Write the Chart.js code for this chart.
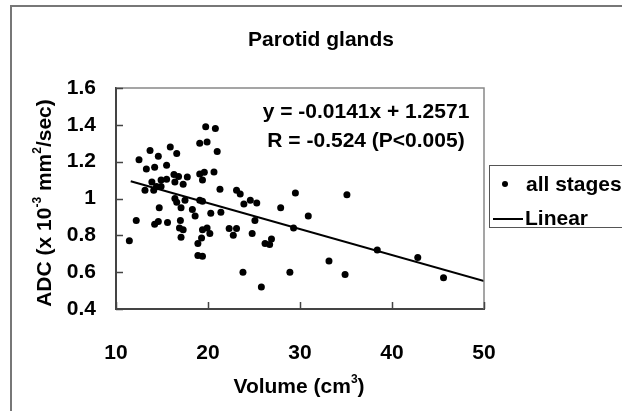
<!DOCTYPE html>
<html><head><meta charset="utf-8">
<script src="https://cdn.jsdelivr.net/npm/chart.js@4.4.0/dist/chart.umd.min.js"></script>
<style>html,body{margin:0;padding:0;background:#fff;overflow:hidden}canvas{display:block}</style>
</head><body>
<canvas id="c" width="622" height="411"></canvas>
<script>
// ---- data ----
const volumes = [11.45,12.2,12.5,13.15,13.3,13.7,13.9,14.1,14.2,14.2,14.4,14.6,14.6,14.7,14.9,14.9,15.5,15.5,15.6,15.9,16.3,16.4,16.4,16.6,16.6,16.8,16.9,17.0,17.07,17.07,17.3,17.3,17.5,17.75,18.3,18.6,18.9,18.9,19.1,19.1,19.1,19.3,19.4,19.4,19.4,19.4,19.6,19.75,19.9,19.9,20.2,20.3,20.65,20.8,21.0,21.3,21.4,22.3,22.75,23.1,23.1,23.5,23.8,23.9,24.6,24.8,25.1,25.3,25.8,26.2,26.7,26.9,27.9,28.9,29.3,29.5,30.9,33.15,34.9,35.1,38.4,42.8,45.6];
const adcValues = [0.77,0.88,1.21,1.045,1.16,1.26,1.09,1.045,1.17,0.86,1.065,1.23,0.875,0.95,1.10,1.065,1.105,1.18,0.87,1.28,1.13,1.09,1.0,1.245,0.98,1.12,0.84,0.88,0.95,0.79,1.078,0.83,0.99,1.117,0.94,0.905,0.755,0.69,1.30,1.133,0.99,0.785,1.10,0.985,0.83,0.686,1.142,1.39,1.307,0.84,0.81,0.92,1.144,1.38,1.255,1.05,0.925,0.837,0.80,1.045,0.837,1.025,0.60,0.97,0.99,0.81,0.88,0.975,0.52,0.755,0.75,0.78,0.95,0.60,0.84,1.03,0.905,0.66,0.587,1.02,0.72,0.68,0.57];
const fitX = [11.6, 50];
const fitY = [1.094, 0.552];
const xTicks = [10, 20, 30, 40, 50];
const xTickLabels = ['10', '20', '30', '40', '50'];
const yTicks = [0.4, 0.6, 0.8, 1.0, 1.2, 1.4, 1.6];
const yTickLabels = ['0.4', '0.6', '0.8', '1', '1.2', '1.4', '1.6'];
const chartTitle = 'Parotid glands';
const equationLines = ['y = -0.0141x + 1.2571', 'R = -0.524 (P<0.005)'];
const seriesNames = ['all stages', 'Linear'];

const FONT = '"Liberation Sans", Arial, Helvetica, sans-serif';
const FS = 21;
const W = 622, H = 411;
const PL = 116, PR = 484, PT = 88, PB = 309;

function richText(ctx, parts, x, y, align) {
  const big = 'bold ' + FS + 'px ' + FONT, small = 'bold 12px ' + FONT;
  let total = 0;
  parts.forEach(p => { ctx.font = p[1] ? small : big; total += ctx.measureText(p[0]).width; });
  let cx = align === 'center' ? x - total / 2 : x;
  ctx.textAlign = 'left';
  ctx.textBaseline = 'alphabetic';
  parts.forEach(p => {
    ctx.font = p[1] ? small : big;
    ctx.fillText(p[0], cx, p[1] ? y - 10 : y);
    cx += ctx.measureText(p[0]).width;
  });
}

const decor = {
  id: 'decor',
  beforeDraw(chart) {
    const ctx = chart.ctx;
    ctx.save();
    ctx.fillStyle = '#fff';
    ctx.fillRect(0, 0, W, H);
    ctx.strokeStyle = '#777';
    ctx.lineWidth = 2;
    ctx.beginPath();
    ctx.moveTo(11, H); ctx.lineTo(11, 6); ctx.lineTo(W, 6);
    ctx.stroke();
    ctx.restore();
  },
  afterDraw(chart) {
    const ctx = chart.ctx, a = chart.chartArea;
    const xs = chart.scales.x, ys = chart.scales.y;
    ctx.save();
    ctx.strokeStyle = '#888';
    ctx.lineWidth = 1.5;
    ctx.beginPath();
    ctx.moveTo(a.left, a.top); ctx.lineTo(a.right, a.top); ctx.lineTo(a.right, a.bottom);
    ctx.stroke();
    ctx.strokeStyle = '#444';
    ctx.lineWidth = 1.5;
    ctx.beginPath();
    yTicks.forEach(v => { const p = Math.round(ys.getPixelForValue(v)) + 0.5; ctx.moveTo(a.left, p); ctx.lineTo(a.left + 7, p); });
    xTicks.forEach(v => { const p = Math.round(xs.getPixelForValue(v)) + 0.5; ctx.moveTo(p, a.bottom); ctx.lineTo(p, a.bottom - 7); });
    ctx.stroke();
    ctx.fillStyle = '#000';
    ctx.font = 'bold ' + FS + 'px ' + FONT;
    ctx.textAlign = 'center'; ctx.textBaseline = 'middle';
    ctx.fillText(chartTitle, 321, 40);
    ctx.fillText(equationLines[0], 366, 112);
    ctx.fillText(equationLines[1], 366, 141);
    richText(ctx, [['Volume (cm', false], ['3', true], [')', false]], 299, 393, 'center');
    ctx.save();
    ctx.translate(51, 203);
    ctx.rotate(-Math.PI / 2);
    richText(ctx, [['ADC (x 10', false], ['-3', true], [' mm', false], ['2', true], ['/sec)', false]], 0, 0, 'center');
    ctx.restore();
    // legend
    ctx.strokeStyle = '#555';
    ctx.lineWidth = 1;
    ctx.strokeRect(489.5, 165.5, 140, 62);
    ctx.beginPath(); ctx.arc(505, 184, 3, 0, Math.PI * 2); ctx.fill();
    ctx.lineWidth = 2;
    ctx.strokeStyle = '#000';
    ctx.beginPath(); ctx.moveTo(493, 219); ctx.lineTo(523, 219); ctx.stroke();
    ctx.font = 'bold ' + FS + 'px ' + FONT;
    ctx.textAlign = 'left'; ctx.textBaseline = 'middle';
    ctx.fillText(seriesNames[0], 526, 185);
    ctx.fillText(seriesNames[1], 525, 219);
    ctx.restore();
  }
};

new Chart(document.getElementById('c'), {
  type: 'scatter',
  data: {
    datasets: [
      {
        label: seriesNames[0],
        data: volumes.map((x, i) => ({ x: x, y: adcValues[i] })),
        backgroundColor: '#000', borderColor: '#000',
        pointRadius: 3.5, pointHoverRadius: 3.5, borderWidth: 0
      },
      {
        label: seriesNames[1],
        type: 'line',
        data: fitX.map((x, i) => ({ x: x, y: fitY[i] })),
        borderColor: '#000', borderWidth: 2, pointRadius: 0, showLine: true, fill: false
      }
    ]
  },
  options: {
    responsive: false,
    animation: false,
    devicePixelRatio: 1,
    layout: { padding: { left: 0, top: PT, right: W - PR, bottom: 0 } },
    plugins: { legend: { display: false }, title: { display: false }, tooltip: { enabled: false } },
    scales: {
      x: {
        type: 'linear', min: 10, max: 50,
        afterBuildTicks: s => { s.ticks = xTicks.map(v => ({ value: v })); },
        afterFit: s => { s.height = H - PB; },
        grid: { drawOnChartArea: false, drawTicks: false },
        border: { display: true, color: '#444', width: 2 },
        ticks: {
          padding: 32, color: '#000',
          font: { family: FONT, size: FS, weight: 'bold' },
          callback: v => xTickLabels[xTicks.indexOf(v)]
        }
      },
      y: {
        type: 'linear', min: 0.4, max: 1.6,
        afterBuildTicks: s => { s.ticks = yTicks.map(v => ({ value: v })); },
        afterFit: s => { s.width = PL; },
        grid: { drawOnChartArea: false, drawTicks: false },
        border: { display: true, color: '#444', width: 2 },
        ticks: {
          padding: 20, color: '#000',
          font: { family: FONT, size: FS, weight: 'bold' },
          callback: v => { const i = yTicks.findIndex(t => Math.abs(t - v) < 1e-9); return i >= 0 ? yTickLabels[i] : ''; }
        }
      }
    }
  },
  plugins: [decor]
});
</script></body></html>
